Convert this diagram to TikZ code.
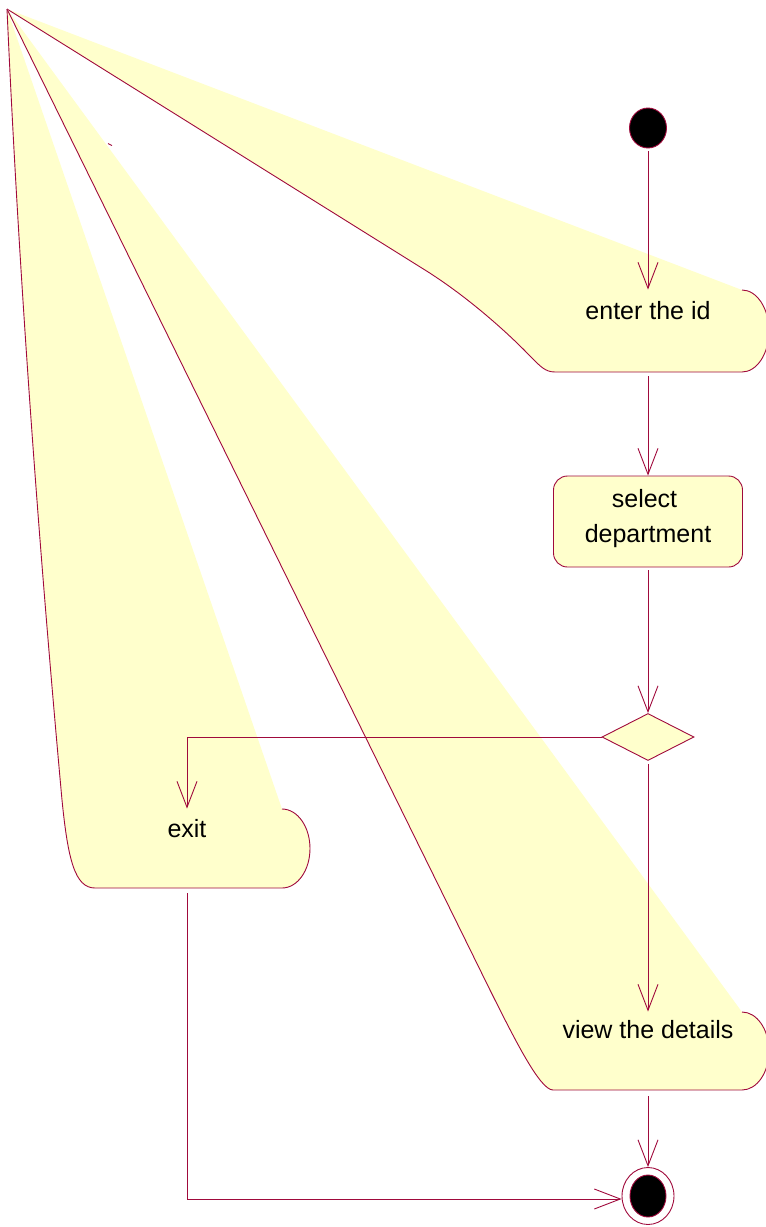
\documentclass[tikz,border=0pt]{standalone}
\usepackage{fontspec}
\setmainfont{Liberation Sans}
\usetikzlibrary{arrows.meta,shapes.geometric}
\definecolor{roseline}{RGB}{160,10,60}
\definecolor{rosefill}{RGB}{255,255,204}
\begin{document}
\begin{tikzpicture}[x=1pt,y=-1pt,line width=0.9pt,
  conn/.style={draw=roseline,-{Straight Barb[length=26pt,width=20pt]}},
  actshape/.style={fill=rosefill,draw=roseline},
  acttext/.style={anchor=base,inner sep=0pt,font=\fontsize{25pt}{35pt}\selectfont},
  startstate/.style={ellipse,draw=roseline,fill=black,inner sep=0pt}
]
\useasboundingbox (0,0) rectangle (766,1227);
\clip (0,0) rectangle (766,1227);
\coordinate (apex) at (7,9);

% distorted activity shapes (fill closes implicitly, stroke stays open)
\path[actshape] (apex) -- (425,270) .. controls (465,295) and (505,330) .. (530,356)
  .. controls (540,366) and (545,372) .. (555,372) -- (742,372)
  .. controls (756.9,372) and (769,353.6) .. (769,331)
  .. controls (769,308.4) and (756.9,290) .. (742,290);
\path[actshape] (apex) .. controls (20,300) and (42,580) .. (62,800)
  .. controls (68,860) and (75,888) .. (95,888) -- (282,888)
  .. controls (297.5,888) and (310,870.3) .. (310,848.5)
  .. controls (310,826.7) and (297.5,809) .. (282,809);
\path[actshape] (apex) -- (490,990) .. controls (515,1040) and (540,1090) .. (553,1090)
  -- (742,1090) .. controls (756.9,1090) and (769,1072.5) .. (769,1051)
  .. controls (769,1029.5) and (756.9,1012) .. (742,1012);
\draw[roseline] (108,143.5) -- (112,145.5);

% nodes
\node[startstate,minimum width=37pt,minimum height=40pt] (start) at (648,128) {};
\node[acttext,text height=29pt,text depth=53pt] (enter) at (648,319) {enter the id};
\node[draw=roseline,fill=rosefill,rounded corners=14pt,minimum width=189pt,
  align=center,inner xsep=0pt,inner ysep=0pt,anchor=base,text height=66pt,text depth=25pt,
  font=\fontsize{25pt}{35pt}\selectfont] (select) at (648,542) {select\hspace*{7pt}\\department};
\node[diamond,draw=roseline,fill=rosefill,minimum width=92pt,minimum height=47pt,inner sep=0pt] (dec) at (648,737) {};
\node[acttext,text height=28pt,text depth=51pt] (exit) at (187,837) {exit};
\node[acttext,text height=26pt,text depth=52pt] (view) at (648,1038) {view the details};
\node[ellipse,draw=roseline,fill=white,minimum width=52pt,minimum height=57pt,inner sep=0pt] (end) at (648,1196) {};
\node[startstate,minimum width=36pt,minimum height=42pt] (endin) at (end) {};

% connectors
\draw[conn,shorten <=3pt] (start.south) -- (enter.north);
\draw[conn,shorten <=4pt] (enter.south) -- (select.north);
\draw[conn,shorten <=3pt] (select.south) -- (dec.north);
\draw[conn] (dec.west) -| (exit.north);
\draw[conn,shorten <=3pt] (dec.south) -- (view.north);
\draw[conn,shorten <=6pt] (view.south) -- (end.north);
\draw[conn,shorten <=5pt] (exit.south) |- ([yshift=-3pt]end.west);
\end{tikzpicture}
\end{document}
